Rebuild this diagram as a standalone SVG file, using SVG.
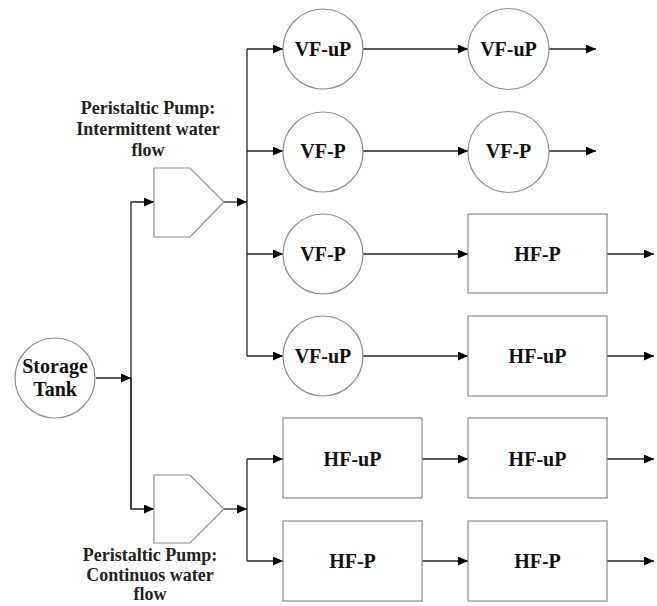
<svg xmlns="http://www.w3.org/2000/svg" width="657" height="606" viewBox="0 0 657 606">
<style>
.node{fill:#fff;stroke:#8c8c8c;stroke-width:1.2}
.t{font-family:"Liberation Serif","Times New Roman",serif;font-weight:bold;font-size:20px;fill:#111;text-anchor:middle}
.lbl{font-family:"Liberation Serif","Times New Roman",serif;font-weight:bold;font-size:18px;fill:#222;text-anchor:middle}
.c{fill:none;stroke:#222;stroke-width:1.3}
</style>
<defs>
<marker id="ah" markerUnits="userSpaceOnUse" markerWidth="11" markerHeight="9" refX="10" refY="4.5" orient="auto">
<path d="M0,0 L10,4.5 L0,9 z" fill="#000"/>
</marker>
</defs>
<rect width="657" height="606" fill="#fff"/>
<g id="connectors">
<path class="c" d="M96,378 H131" marker-end="url(#ah)"/>
<path class="c" d="M131,509 V202 H154" marker-end="url(#ah)"/>
<path class="c" d="M131,378 V509 H154" marker-end="url(#ah)"/>
<path class="c" d="M224,202 H247" marker-end="url(#ah)"/>
<path class="c" d="M224,509 H247" marker-end="url(#ah)"/>
<path class="c" d="M247,49 V356"/>
<path class="c" d="M247,49 H283" marker-end="url(#ah)"/>
<path class="c" d="M247,151 H283" marker-end="url(#ah)"/>
<path class="c" d="M247,254 H283" marker-end="url(#ah)"/>
<path class="c" d="M247,356 H283" marker-end="url(#ah)"/>
<path class="c" d="M247,459 V561"/>
<path class="c" d="M247,459 H283" marker-end="url(#ah)"/>
<path class="c" d="M247,561 H283" marker-end="url(#ah)"/>
<path class="c" d="M363,49 H468" marker-end="url(#ah)"/>
<path class="c" d="M363,151 H468" marker-end="url(#ah)"/>
<path class="c" d="M363,254 H468" marker-end="url(#ah)"/>
<path class="c" d="M363,356 H468" marker-end="url(#ah)"/>
<path class="c" d="M422,459 H468" marker-end="url(#ah)"/>
<path class="c" d="M422,561 H468" marker-end="url(#ah)"/>
<path class="c" d="M549,49 H596" marker-end="url(#ah)"/>
<path class="c" d="M549,151 H596" marker-end="url(#ah)"/>
<path class="c" d="M607,254 H654" marker-end="url(#ah)"/>
<path class="c" d="M607,356 H654" marker-end="url(#ah)"/>
<path class="c" d="M607,459 H654" marker-end="url(#ah)"/>
<path class="c" d="M607,561 H654" marker-end="url(#ah)"/>
</g>
<g id="storage-tank">
<circle class="node" cx="55" cy="378" r="40"/>
<text class="t" x="55" y="373">Storage</text>
<text class="t" x="55" y="396">Tank</text>
</g>
<g id="pump-intermittent">
<path class="node" d="M154,168 H190 L224,202 L190,237 H154 Z"/>
<text class="lbl" x="148" y="114">Peristaltic Pump:</text>
<text class="lbl" x="148" y="135">Intermittent water</text>
<text class="lbl" x="148" y="156">flow</text>
</g>
<g id="pump-continuous">
<path class="node" d="M154,475 H190 L224,509 L190,543 H154 Z"/>
<text class="lbl" x="150" y="561">Peristaltic Pump:</text>
<text class="lbl" x="150" y="581">Continuos water</text>
<text class="lbl" x="150" y="600">flow</text>
</g>
<g id="r1a"><circle class="node" cx="323" cy="49" r="40"/><text class="t" x="323" y="56">VF-uP</text></g>
<g id="r1b"><circle class="node" cx="508.5" cy="49" r="40.5"/><text class="t" x="508.5" y="56">VF-uP</text></g>
<g id="r2a"><circle class="node" cx="323" cy="152" r="40"/><text class="t" x="323" y="158">VF-P</text></g>
<g id="r2b"><circle class="node" cx="508.5" cy="152" r="40.5"/><text class="t" x="508.5" y="158">VF-P</text></g>
<g id="r3a"><circle class="node" cx="323" cy="254" r="40"/><text class="t" x="323" y="261">VF-P</text></g>
<g id="r3b"><rect class="node" x="468" y="214" width="139" height="79"/><text class="t" x="537.5" y="261">HF-P</text></g>
<g id="r4a"><circle class="node" cx="323" cy="356" r="40"/><text class="t" x="323" y="363">VF-uP</text></g>
<g id="r4b"><rect class="node" x="468" y="316" width="139" height="80"/><text class="t" x="537.5" y="363">HF-uP</text></g>
<g id="r5a"><rect class="node" x="283" y="418" width="139" height="80"/><text class="t" x="352.5" y="466">HF-uP</text></g>
<g id="r5b"><rect class="node" x="468" y="418" width="139" height="80"/><text class="t" x="537.5" y="466">HF-uP</text></g>
<g id="r6a"><rect class="node" x="283" y="521" width="139" height="80"/><text class="t" x="352.5" y="568">HF-P</text></g>
<g id="r6b"><rect class="node" x="468" y="521" width="139" height="80"/><text class="t" x="537.5" y="568">HF-P</text></g>
</svg>
